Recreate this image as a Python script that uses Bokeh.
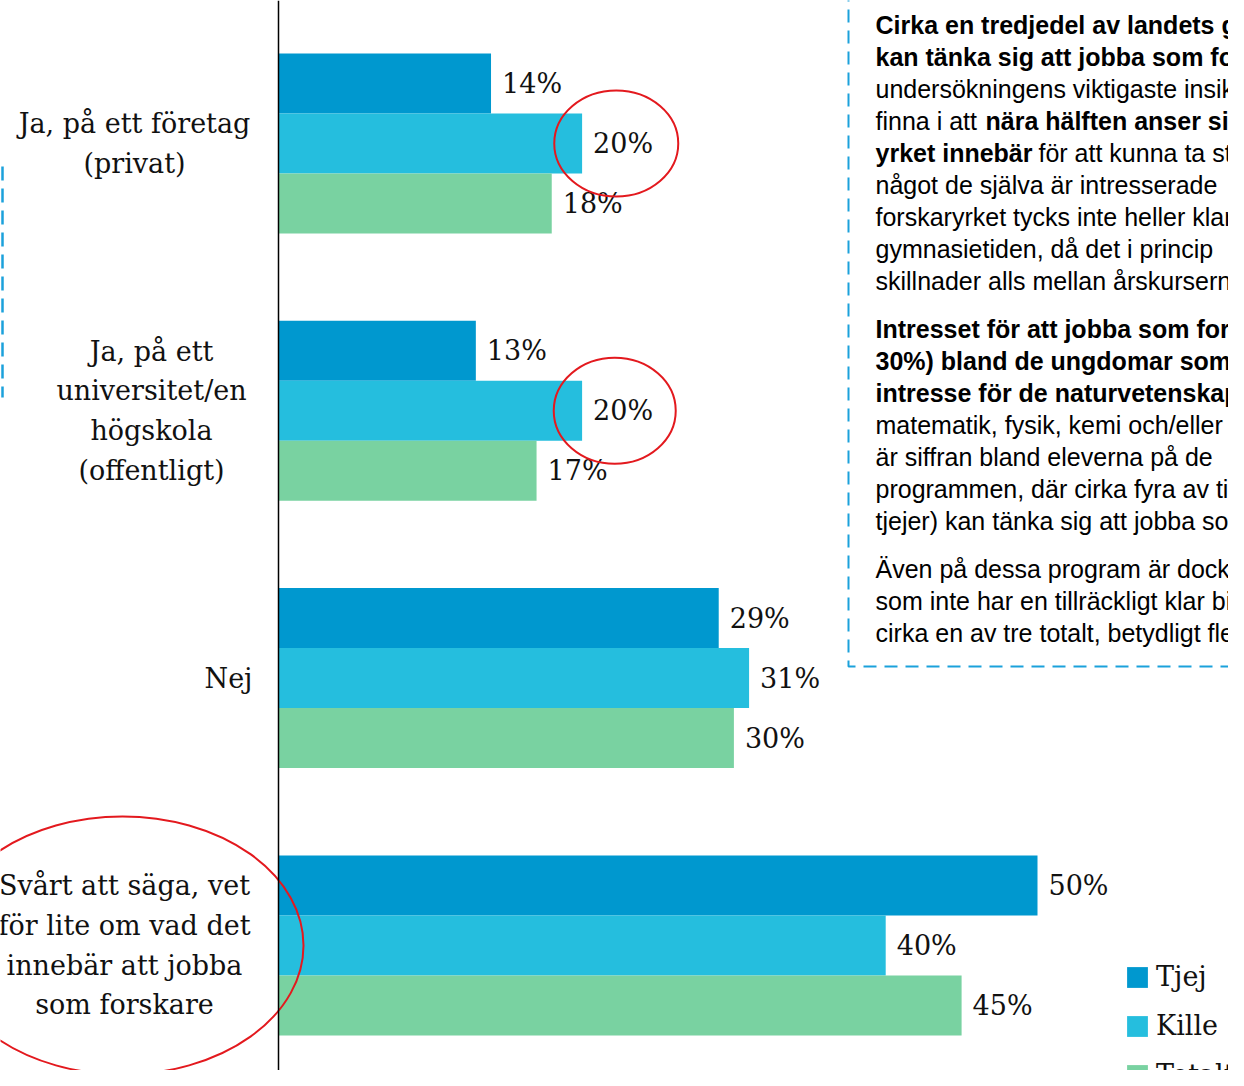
from bokeh.plotting import figure
from bokeh.models import ColumnDataSource, Range1d, Span, BoxAnnotation, Legend, LegendItem
from bokeh.transform import dodge
from bokeh.core.properties import value
from bokeh.embed import file_html
from bokeh.resources import INLINE

# ---------------- data ----------------
categories = [
    "Ja, på ett företag\n(privat)",
    "Ja, på ett\nuniversitet/en\nhögskola\n(offentligt)",
    "Nej",
    "Svårt att säga, vet\nför lite om vad det\ninnebär att jobba\nsom forskare",
]
tjej = [14, 13, 29, 50]
kille = [20, 20, 31, 40]
totalt = [18, 17, 30, 45]
series_names = ["Tjej", "Kille", "Totalt"]

# ---------------- layout constants ----------------
W, H = 1228, 1070
X0_PX = 278          # pixel where value 0 lies
PX_PER = 15.18       # pixels per percent
PITCH = 267.3        # pixels per category
TOP_CENTER = 143     # pixel centre of the first category
BH = 60 / PITCH      # bar height in category units

COL_TJEJ = "#0098CF"
COL_KILLE = "#25BEDE"
COL_TOT = "#79D2A1"
RED = "#E3191E"
DASH_BLUE = "#1BA1DB"
SERIF = "DejaVu Serif"
SANS = "Liberation Sans"


def dx(px):
    return (px - X0_PX) / PX_PER


def dy(py):
    return (py - TOP_CENTER) / PITCH


p = figure(
    width=W, height=H,
    x_range=Range1d(dx(0), dx(W)),
    y_range=Range1d(dy(H), dy(0)),
    x_axis_location=None, y_axis_location=None,
    toolbar_location=None, output_backend="svg",
    min_border=0, outline_line_color=None,
)
p.grid.visible = False

src = ColumnDataSource(dict(
    pos=list(range(len(categories))),
    cat=categories,
    tjej=tjej, kille=kille, totalt=totalt,
    tjej_l=[f"{v}%" for v in tjej],
    kille_l=[f"{v}%" for v in kille],
    totalt_l=[f"{v}%" for v in totalt],
))

renderers = []
for field, off, col in [("tjej", -BH, COL_TJEJ), ("kille", 0, COL_KILLE), ("totalt", BH, COL_TOT)]:
    r = p.hbar(y=dodge("pos", off), left=0, right=field, height=BH,
               fill_color=col, line_color=None, source=src)
    renderers.append(r)
    p.text(x=field, y=dodge("pos", off), text=field + "_l", source=src,
           x_offset=11, text_baseline="middle", text_align="left",
           text_font=value(SERIF), text_font_size="27px", text_color="#111111")

# axis line
p.add_layout(Span(location=0, dimension="height", line_color="black", line_width=1.5))

# category labels
cat_src = ColumnDataSource(dict(pos=list(range(len(categories))), cat=categories,
                                off=[-144, -127, -50, -154], x=[0] * len(categories)))
p.text(x="x", y="pos", text="cat", x_offset="off", source=cat_src,
       text_align="center", text_baseline="middle", text_line_height=1.28,
       text_font=value(SERIF), text_font_size="27px", text_color="#111111")

# red ellipses
ell = ColumnDataSource(dict(
    x=[kille[0] + 2.25, kille[1] + 2.15, dx(122)],
    y=[0, 1, 3],
    w=[124, 122, 362], h=[106, 106, 258],
))
p.ellipse(x="x", y="y", width="w", height="h", width_units="screen", height_units="screen",
          fill_alpha=0, line_color=RED, line_width=2, source=ell)

# dashed text box
p.add_layout(BoxAnnotation(left=dx(848), right=dx(1500), bottom=dy(666), top=dy(-200),
                           fill_alpha=0, line_color=DASH_BLUE, line_alpha=1.0,
                           line_width=2, line_dash="13 8"))
p.segment(x0=[dx(2)], y0=[dy(166)], x1=[dx(2)], y1=[dy(397)],
          line_color=DASH_BLUE, line_width=2.5, line_dash="14 8")

# text box content
lines = [
    ("Cirka en tredjedel av landets gymnasieelever", 875, 24, "bold"),
    ("kan tänka sig att jobba som forskare.", 875, 56, "bold"),
    ("undersökningens viktigaste insikt", 875, 88, "normal"),
    ("finna i att", 875, 120, "normal"),
    ("nära hälften anser sig", 985, 120, "bold"),
    ("yrket innebär", 875, 152, "bold"),
    ("för att kunna ta ställning", 1038, 152, "normal"),
    ("något de själva är intresserade", 875, 184, "normal"),
    ("forskaryrket tycks inte heller klarna", 875, 216, "normal"),
    ("gymnasietiden, då det i princip", 875, 248, "normal"),
    ("skillnader alls mellan årskurserna.", 875, 280, "normal"),
    ("Intresset för att jobba som forskare", 875, 328, "bold"),
    ("30%) bland de ungdomar som", 875, 360, "bold"),
    ("intresse för de naturvetenskapliga", 875, 392, "bold"),
    ("matematik, fysik, kemi och/eller", 875, 424, "normal"),
    ("är siffran bland eleverna på de", 875, 456, "normal"),
    ("programmen, där cirka fyra av tio", 875, 488, "normal"),
    ("tjejer) kan tänka sig att jobba som", 875, 520, "normal"),
    ("Även på dessa program är dock", 875, 568, "normal"),
    ("som inte har en tillräckligt klar bild", 875, 600, "normal"),
    ("cirka en av tre totalt, betydligt fler", 875, 632, "normal"),
]
txt_src = ColumnDataSource(dict(
    x=[dx(l[1]) for l in lines], y=[dy(l[2]) for l in lines],
    t=[l[0] for l in lines], s=[l[3] for l in lines],
))
p.text(x="x", y="y", text="t", text_font_style="s", source=txt_src,
       text_align="left", text_baseline="middle",
       text_font=value(SANS), text_font_size="25px", text_color="#000000")

# legend
legend = Legend(
    items=[LegendItem(label=n, renderers=[r]) for n, r in zip(series_names, renderers)],
    location=(1124, -20), orientation="vertical",
    glyph_width=26, glyph_height=26, label_height=26, label_standoff=6, spacing=18,
    padding=0, margin=0, border_line_color=None, background_fill_alpha=0,
    label_text_font=SERIF, label_text_font_size="27px", label_text_color="#111111",
)
p.add_layout(legend)

open("out.html", "w").write(file_html(p, INLINE))
